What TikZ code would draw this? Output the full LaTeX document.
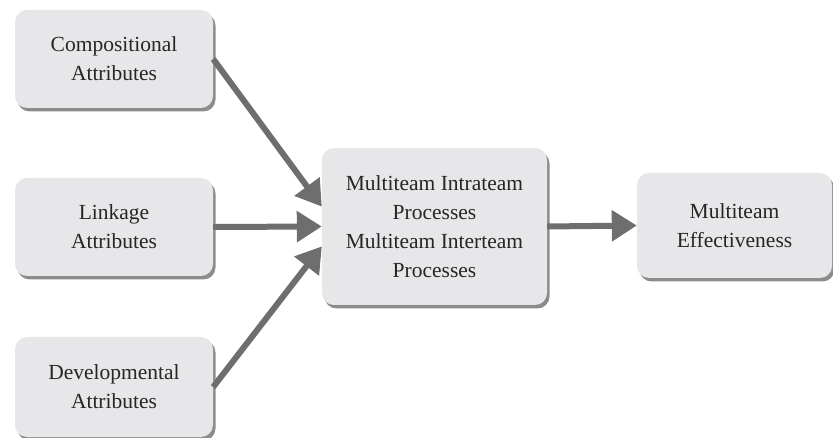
\documentclass[tikz,border=0pt]{standalone}
\usepackage{fontspec}
\setmainfont{Liberation Serif}
\usetikzlibrary{arrows.meta,shadows}
\definecolor{boxgray}{HTML}{E7E7EA}
\definecolor{arrowgray}{HTML}{6E6E6E}
\definecolor{textgray}{HTML}{262626}

\begin{document}
\begin{tikzpicture}[x=1pt,y=1pt]
\tikzstyle{box}=[rounded corners=12pt, fill=boxgray, align=center, text=textgray,
  font=\fontsize{21.5}{29}\selectfont, inner sep=0pt,
  drop shadow={shadow xshift=2.5pt, shadow yshift=-3.5pt, fill=black!60, opacity=0.75}]
\tikzstyle{link}=[arrowgray, line width=6pt, -{Triangle[length=25pt,width=30pt]}]
\useasboundingbox (0,0) rectangle (833,-438);
\node [box, minimum width=198pt, minimum height=98pt] (comp) at (114,-59) {Compositional\\Attributes};
\node [box, minimum width=198pt, minimum height=98pt] (linkage) at (114,-227) {Linkage\\Attributes};
\node [box, minimum width=198pt, minimum height=100pt] (dev) at (114,-387) {Developmental\\Attributes};
\node [box, minimum width=225pt, minimum height=157pt] (mid) at (434.5,-226.5) {Multiteam Intrateam\\Processes\\Multiteam Interteam\\Processes};
\node [box, minimum width=195pt, minimum height=105pt] (eff) at (734.5,-225.5) {Multiteam\\Effectiveness};
\draw [link] (comp.east) -- (mid.170);
\draw [link] (linkage.east) -- (mid.west);
\draw [link] (dev.east) -- (mid.190);
\draw [link] (mid.east) -- (eff.west);
\end{tikzpicture}
\end{document}
